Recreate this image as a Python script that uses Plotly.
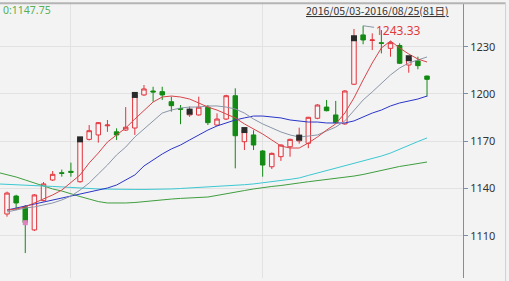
import plotly.graph_objects as go

# ---- data ----
idx = list(range(47))
opens = [1123.8, 1135.2, 1128.4, 1113.7, 1132.3, 1145.4, 1150.0, 1150.9, 1144.3, 1171.2,
         1174.0, 1179.8, 1176.0, 1177.1, 1178.4, 1199.4, 1201.9, 1201.5, 1195.1, 1190.8,
         1186.7, 1186.7, 1191.6, 1180.3, 1184.1, 1198.9, 1169.7, 1174.0, 1163.8, 1153.8,
         1160.2, 1166.5, 1170.2, 1168.7, 1184.6, 1191.7, 1186.7, 1181.0, 1206.2, 1237.5,
         1234.0, 1232.5, 1229.0, 1230.8, 1218.4, 1221.0, 1211.4]
highs = [1138.0, 1136.0, 1129.5, 1136.5, 1144.1, 1151.1, 1152.0, 1156.4, 1172.7, 1180.3,
         1182.2, 1183.5, 1178.2, 1191.7, 1200.0, 1205.7, 1204.6, 1204.6, 1198.3, 1193.0,
         1192.0, 1198.3, 1193.0, 1187.7, 1199.5, 1203.6, 1178.0, 1177.0, 1164.4, 1162.8,
         1168.0, 1171.6, 1178.6, 1185.5, 1193.5, 1196.2, 1195.6, 1202.5, 1241.3, 1243.33,
         1238.5, 1240.6, 1233.5, 1232.2, 1223.0, 1223.7, 1211.6]
lows = [1122.1, 1126.3, 1099.0, 1113.0, 1131.8, 1144.8, 1147.5, 1147.5, 1143.7, 1170.5,
        1169.1, 1176.0, 1170.8, 1176.5, 1174.0, 1198.8, 1195.1, 1196.2, 1188.8, 1180.8,
        1185.5, 1186.2, 1180.3, 1179.8, 1183.5, 1152.8, 1164.4, 1164.4, 1147.5, 1152.4,
        1157.5, 1160.2, 1168.5, 1165.6, 1184.0, 1189.0, 1181.3, 1180.5, 1205.7, 1231.6,
        1227.9, 1225.8, 1223.7, 1219.0, 1213.5, 1215.7, 1198.3]
closes = [1137.1, 1130.8, 1118.3, 1135.9, 1142.9, 1149.0, 1149.6, 1150.3, 1171.2, 1176.7,
          1181.8, 1180.3, 1174.0, 1178.9, 1199.4, 1203.2, 1201.3, 1199.4, 1192.6, 1190.3,
          1188.8, 1191.6, 1181.8, 1184.1, 1198.9, 1173.5, 1177.1, 1167.6, 1154.9, 1162.3,
          1167.6, 1171.2, 1172.3, 1185.2, 1193.0, 1189.4, 1181.8, 1201.9, 1235.4, 1234.3,
          1234.3, 1232.2, 1232.6, 1219.5, 1222.7, 1218.0, 1209.3]

ma5 = [1126.3, 1127.0, 1128.3, 1130.8, 1133.3, 1135.9, 1139.0, 1144.1, 1148.6, 1156.2,
       1162.5, 1169.5, 1174.0, 1178.4, 1184.1, 1189.8, 1194.9, 1198.1, 1198.7, 1198.1,
       1196.8, 1194.3, 1191.7, 1189.8, 1187.3, 1184.8, 1181.0, 1177.8, 1174.6, 1170.8,
       1167.0, 1165.7, 1165.7, 1168.9, 1172.7, 1177.1, 1181.0, 1187.9, 1197.5, 1208.9,
       1219.7, 1229.2, 1233.7, 1229.2, 1225.4, 1222.2, 1220.3]
ma10 = [1125.1, 1126.3, 1127.6, 1128.3, 1129.5, 1130.8, 1132.7, 1135.2, 1139.0, 1143.5,
        1149.2, 1154.9, 1161.3, 1166.3, 1172.7, 1177.8, 1182.9, 1187.9, 1189.8, 1191.1,
        1191.7, 1191.7, 1192.4, 1192.4, 1191.7, 1190.5, 1187.9, 1184.1, 1181.0, 1178.4,
        1175.9, 1174.0, 1172.7, 1173.3, 1174.0, 1176.5, 1179.0, 1182.9, 1189.8, 1196.2,
        1201.3, 1207.0, 1212.1, 1216.5, 1219.7, 1221.6, 1223.5]
ma20 = [1126.3, 1127.6, 1128.9, 1130.2, 1131.4, 1132.7, 1134.0, 1135.2, 1136.5, 1137.8,
        1139.0, 1140.3, 1142.2, 1145.4, 1148.6, 1154.3, 1158.1, 1161.9, 1165.1, 1167.6,
        1170.8, 1174.0, 1177.1, 1179.7, 1181.6, 1183.5, 1184.8, 1186.0, 1186.0, 1185.4,
        1184.8, 1183.5, 1182.9, 1182.2, 1182.2, 1181.6, 1181.6, 1181.6, 1182.9, 1185.4,
        1187.9, 1189.8, 1192.4, 1194.3, 1195.6, 1196.8, 1198.7]
idx_long = list(range(-1, 47))
ma40 = [1142.9, 1142.7, 1142.4, 1142.2, 1141.9, 1141.6, 1141.3, 1141.0, 1140.6, 1140.3,
        1140.0, 1139.7, 1139.6, 1139.4, 1139.4, 1139.4, 1139.4, 1139.4, 1139.5, 1139.7,
        1140.0, 1140.3, 1140.6, 1141.0, 1141.3, 1141.6, 1141.9, 1142.4, 1142.9, 1143.5,
        1144.1, 1145.1, 1145.8, 1146.7, 1148.3, 1149.8, 1151.2, 1152.7, 1154.3, 1155.9,
        1157.5, 1159.0, 1160.6, 1162.5, 1165.1, 1167.6, 1169.8, 1172.1]
ma60 = [1150.2, 1148.9, 1147.3, 1145.4, 1143.5, 1141.6, 1139.7, 1138.4, 1136.5, 1134.9,
        1133.3, 1131.7, 1130.8, 1130.7, 1130.8, 1131.1, 1131.7, 1132.4, 1133.0, 1133.3,
        1133.7, 1134.0, 1134.3, 1134.6, 1135.6, 1136.5, 1137.5, 1138.7, 1139.7, 1140.6,
        1141.3, 1141.9, 1142.9, 1143.5, 1144.3, 1145.0, 1145.7, 1146.3, 1147.1, 1147.9,
        1148.9, 1150.2, 1151.4, 1153.0, 1154.0, 1154.9, 1155.9, 1156.8]
signal_idx = [8, 14, 20, 26, 32, 38, 44]
y_ticks = [1110, 1140, 1170, 1200, 1230]
x_grid = [7, 28]
max_label = "1243.33"
range_label = "2016/05/03-2016/08/25(81日)"
corner_label = "0:1147.75"

RED = "#e2323a"
GREEN = "#138a13"

fig = go.Figure()
fig.add_trace(go.Scatter(x=idx_long, y=ma60, mode="lines", line=dict(color="#3f9e3f", width=1)))
fig.add_trace(go.Scatter(x=idx_long, y=ma40, mode="lines", line=dict(color="#3cc8d2", width=1)))
fig.add_trace(go.Scatter(x=idx, y=ma20, mode="lines", line=dict(color="#2a35c8", width=1)))
fig.add_trace(go.Scatter(x=idx, y=ma10, mode="lines", line=dict(color="#8a96a8", width=1)))
fig.add_trace(go.Scatter(x=idx, y=ma5, mode="lines", line=dict(color="#d8444a", width=1)))
fig.add_trace(go.Candlestick(
    x=idx, open=opens, high=highs, low=lows, close=closes,
    increasing=dict(line=dict(color=RED, width=1), fillcolor="rgba(255,255,255,0.35)"),
    decreasing=dict(line=dict(color=GREEN, width=1), fillcolor=GREEN),
    whiskerwidth=0,
))
fig.add_trace(go.Scatter(
    x=signal_idx, y=[max(opens[i], closes[i]) for i in signal_idx], mode="markers",
    marker=dict(symbol="square", size=6, color="#2a2a2a", line=dict(width=0)),
))
fig.add_trace(go.Scatter(
    x=[2], y=[min(opens[2], closes[2])], mode="markers",
    marker=dict(symbol="square", size=5, color="#e080c0", line=dict(width=0)),
))

top_i = highs.index(max(highs))
fig.add_annotation(x=top_i, y=highs[top_i], text=max_label, showarrow=True, arrowhead=0,
                   arrowwidth=1, arrowcolor="#8a96a8", ax=35, ay=5,
                   font=dict(family="Noto Sans", size=12, color="#e03a3a"))
fig.add_annotation(xref="paper", yref="paper", x=0.002, y=0.978, xanchor="left", yanchor="middle",
                   text=corner_label, showarrow=False,
                   font=dict(family="Noto Sans", size=10.5, color="#55b055"))
fig.add_annotation(xref="paper", yref="paper", x=0.975, y=0.975, xanchor="right", yanchor="middle",
                   text="<u>" + range_label + "</u>", showarrow=False,
                   font=dict(family="Noto Sans CJK SC", size=10.5, color="#333333"))

# frame lines (top and right border)
fig.add_shape(type="line", xref="paper", yref="paper", x0=0, x1=1.092, y0=1.003, y1=1.003,
              line=dict(color="#b4b4b4", width=2))
fig.add_shape(type="line", xref="paper", yref="paper", x0=1.092, x1=1.092, y0=-0.02, y1=1.003,
              line=dict(color="#d0d0d0", width=1))

fig.update_layout(
    width=509, height=281,
    margin=dict(l=0, r=46, t=4, b=3),
    paper_bgcolor="#f3f3f3", plot_bgcolor="#f3f3f3",
    showlegend=False,
    hovermode=False,
)
fig.update_xaxes(range=[-0.767, 49.94], tickvals=x_grid, showticklabels=False, ticks="",
                 showgrid=True, gridcolor="#e2e2e2", gridwidth=1, zeroline=False,
                 rangeslider=dict(visible=False), showline=False)
fig.update_yaxes(side="right", range=[1083.17, 1257.14], tickvals=y_ticks,
                 ticks="outside", ticklen=4, tickcolor="#7d8fa8",
                 showline=True, linecolor="#7d8fa8", linewidth=1,
                 showgrid=True, gridcolor="#e2e2e2", gridwidth=1, zeroline=False,
                 tickfont=dict(family="Noto Sans", size=11, color="#333333"))

fig.write_html("out.html")
